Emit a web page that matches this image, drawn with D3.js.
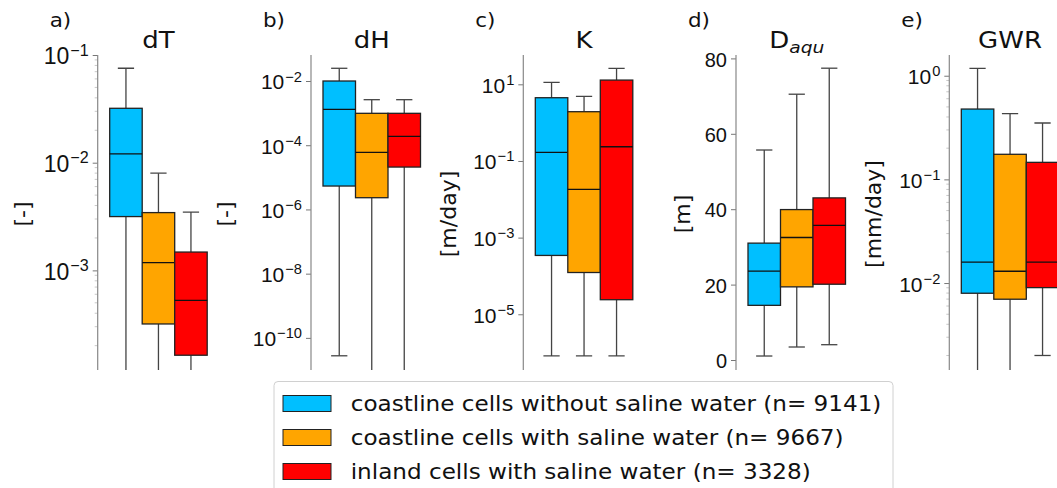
<!DOCTYPE html>
<html>
<head>
<meta charset="utf-8">
<script src="https://cdn.jsdelivr.net/npm/d3@7"></script>
<style>
	body { margin: 0; background: #fff; }
	svg { font-family: "DejaVu Sans", sans-serif; }
</style>
</head>
<body>
<script>
var groups = [
	"coastline cells without saline water (n= 9141)",
	"coastline cells with saline water (n= 9667)",
	"inland cells with saline water (n= 3328)"
]
var colors = ["#00bfff", "#ffa500", "#ff0000"]

// box stats per group: [lower whisker, q1, median, q3, upper whisker]
var dT = [
	[1e-6, 0.00316, 0.01205, 0.032, 0.0753],
	[1e-6, 0.000318, 0.00118, 0.00344, 0.0080],
	[1e-6, 0.000163, 0.000527, 0.00148, 0.00348]
]
var dH = [
	[2.77e-11, 5.36e-6, 0.00131, 0.01, 0.0249],
	[1e-13, 2.32e-6, 6.0e-5, 0.000986, 0.00262],
	[1e-13, 2.09e-5, 1.89e-4, 0.000986, 0.00262]
]
var K = [
	[8.2e-7, 3.43e-4, 0.168, 4.47, 11.3],
	[8.2e-7, 1.23e-4, 0.0181, 1.93, 4.86],
	[8.2e-7, 2.4e-5, 0.235, 12.9, 26.2]
]
var Daqu = [
	[1.06, 14.5, 23.6, 31.0, 55.7],
	[3.45, 19.4, 32.5, 39.9, 70.5],
	[4.06, 20.1, 35.7, 43.0, 77.4]
]
var GWR = [
	[1e-4, 0.00797, 0.0159, 0.477, 1.18],
	[1e-4, 0.00698, 0.0130, 0.1746, 0.430],
	[0.002, 0.00903, 0.0159, 0.146, 0.350]
]

var dTTicks = [-1, -2, -3]
var dHTicks = [-2, -4, -6, -8, -10]
var KTicks = [1, -1, -3, -5]
var DaquTicks = [0, 20, 40, 60, 80]
var GWRTicks = [0, -1, -2]

var panels = [
	{letter: "a)", title: "dT", unit: "[-]", stats: dT, log: true, domain: [-3.925, -1], ticks: dTTicks, minor: true, axisX: 97.7, labelX: 22, fontSize: 23},
	{letter: "b)", title: "dH", unit: "[-]", stats: dH, log: true, domain: [-11.0, -1.19], ticks: dHTicks, minor: false, axisX: 311, labelX: 225, fontSize: 21},
	{letter: "c)", title: "K", unit: "[m/day]", stats: K, log: true, domain: [-6.454, 1.765], ticks: KTicks, minor: false, axisX: 523.3, labelX: 448, fontSize: 21},
	{letter: "d)", title: "D", sub: "aqu", unit: "[m]", stats: Daqu, log: false, domain: [-2.65, 80.9], ticks: DaquTicks, minor: false, axisX: 736, labelX: 682, fontSize: 20},
	{letter: "e)", title: "GWR", unit: "[mm/day]", stats: GWR, log: true, domain: [-2.839, 0.2], ticks: GWRTicks, minor: true, axisX: 949.3, labelX: 873, fontSize: 21}
]

var w = 1057
var h = 488
var yTop = 55
var yBottom = 370

var svg = d3.select("body")
	.append("svg")
	.attr("width", w)
	.attr("height", h)

panels.forEach((p, pi) => plotPanel(p, pi))
plotLegend()

// text drawn slightly wider, like the hinted matplotlib output
function wideText(parent, x, y, str, size, anchor, sx) {
	return parent.append("text")
		.attr("transform", "translate(" + x + "," + y + ") scale(" + sx + ",1)")
		.attr("text-anchor", anchor)
		.style("font-size", size + "px")
		.attr("fill", "#111")
		.text(str)
}

function plotPanel(p, pi) {
	var yScale = p.log
		? d3.scaleLog().domain([Math.pow(10, p.domain[0]), Math.pow(10, p.domain[1])]).range([yBottom, yTop])
		: d3.scaleLinear().domain(p.domain).range([yBottom, yTop])

	var xScale = d3.scaleBand()
		.domain(groups)
		.range([p.axisX + 12, p.axisX + 12 + 97.5])
		.padding(0)

	var g = svg.append("g")

	svg.append("clipPath")
		.attr("id", "clip" + pi)
		.append("rect")
		.attr("x", p.axisX)
		.attr("y", yTop)
		.attr("width", 130)
		.attr("height", yBottom - yTop)

	// minor ticks
	if (p.minor) {
		var minors = []
		for (var e = Math.floor(p.domain[0]); e < p.domain[1]; e++) {
			for (var m = 2; m < 10; m++) {
				var v = m * Math.pow(10, e)
				if (Math.log10(v) >= p.domain[0] && Math.log10(v) <= p.domain[1]) minors.push(v)
			}
		}
		g.selectAll(".minor")
			.data(minors)
			.enter()
			.append("line")
			.attr("x1", p.axisX - 3)
			.attr("x2", p.axisX)
			.attr("y1", (d) => yScale(d))
			.attr("y2", (d) => yScale(d))
			.attr("stroke", "#c8c8c8")
			.attr("stroke-width", 1)
	}

	var tickVals = p.log ? p.ticks.map((t) => Math.pow(10, t)) : p.ticks
	var yAxis = d3.axisLeft(yScale)
		.tickValues(tickVals)
		.tickSize(5)
		.tickPadding(4)
		.tickFormat((d) => p.log ? "10" : String(d))

	var ax = g.append("g")
		.attr("transform", "translate(" + p.axisX + ",0)")
		.call(yAxis)
	ax.select(".domain").remove()
	ax.selectAll(".tick line").attr("stroke", "#777").attr("stroke-width", 1)
	ax.selectAll(".tick text")
		.attr("fill", "#111")
		.style("font-size", p.fontSize + "px")
		.attr("dy", "0.38em")
	if (p.log) {
		ax.selectAll(".tick text").each(function (d) {
			var t = d3.select(this)
			var e = Math.round(Math.log10(d))
			t.text("10")
			t.append("tspan")
				.attr("dy", -0.38 * p.fontSize)
				.attr("dx", 1)
				.style("font-size", (p.fontSize * 0.7) + "px")
				.text(String(e).replace("-", "\u2212"))
		})
	}

	g.append("line")
		.attr("x1", p.axisX)
		.attr("x2", p.axisX)
		.attr("y1", yTop)
		.attr("y2", yBottom)
		.attr("stroke", "#888")
		.attr("stroke-width", 1.2)

	// boxes
	var boxes = g.append("g").attr("clip-path", "url(#clip" + pi + ")")
	var bw = xScale.bandwidth()
	groups.forEach((grp, i) => {
		var s = p.stats[i]
		var cx = xScale(grp) + bw / 2
		var yLo = yScale(s[0])
		// whiskers
		boxes.append("line")
			.attr("x1", cx).attr("x2", cx)
			.attr("y1", yScale(s[3])).attr("y2", yScale(s[4]))
			.attr("stroke", "#444").attr("stroke-width", 1.3)
		boxes.append("line")
			.attr("x1", cx).attr("x2", cx)
			.attr("y1", yScale(s[1])).attr("y2", Math.min(yLo, 500))
			.attr("stroke", "#444").attr("stroke-width", 1.3)
		;[s[0], s[4]].forEach((v) => {
			boxes.append("line")
				.attr("x1", cx - bw / 4).attr("x2", cx + bw / 4)
				.attr("y1", yScale(v)).attr("y2", yScale(v))
				.attr("stroke", "#444").attr("stroke-width", 1.3)
		})
		boxes.append("rect")
			.attr("x", xScale(grp))
			.attr("y", yScale(s[3]))
			.attr("width", bw)
			.attr("height", yScale(s[1]) - yScale(s[3]))
			.attr("fill", colors[i])
			.attr("stroke", "#222")
			.attr("stroke-width", 1.3)
		boxes.append("line")
			.attr("x1", xScale(grp)).attr("x2", xScale(grp) + bw)
			.attr("y1", yScale(s[2])).attr("y2", yScale(s[2]))
			.attr("stroke", "#111").attr("stroke-width", 1.3)
	})

	// title
	var title = wideText(svg, p.axisX + 12 + 48.75, 48, p.title, 23, "middle", 1.13)
	if (p.sub) {
		title.append("tspan")
			.attr("dy", 5)
			.style("font-size", "16.5px")
			.style("font-style", "italic")
			.text(p.sub)
	}

	wideText(svg, p.axisX - 48, 26.7, p.letter, 19, "start", 1.13)

	svg.append("text")
		.attr("transform", "translate(" + p.labelX + ",214) rotate(-90)")
		.attr("text-anchor", "middle")
		.attr("dy", "0.35em")
		.style("font-size", "22px")
		.attr("fill", "#111")
		.text(p.unit)
}

function plotLegend() {
	var legend = svg.append("g")
	var rowH = 34

	legend.append("rect")
		.attr("x", 274)
		.attr("y", 381.5)
		.attr("width", 619)
		.attr("height", 130)
		.attr("rx", 4)
		.attr("fill", "white")
		.attr("stroke", "#d0d0d0")
		.attr("stroke-width", 1)

	legend.selectAll(".swatch")
		.data(groups)
		.enter()
		.append("rect")
		.attr("x", 283)
		.attr("y", (d, i) => 395.5 + i * rowH)
		.attr("width", 48)
		.attr("height", 16)
		.attr("fill", (d, i) => colors[i])
		.attr("stroke", "#222")
		.attr("stroke-width", 1)

	groups.forEach((d, i) => {
		wideText(legend, 350.7, 410.7 + i * rowH, d, 21, "start", 1.1)
	})
}
</script>
</body>
</html>
